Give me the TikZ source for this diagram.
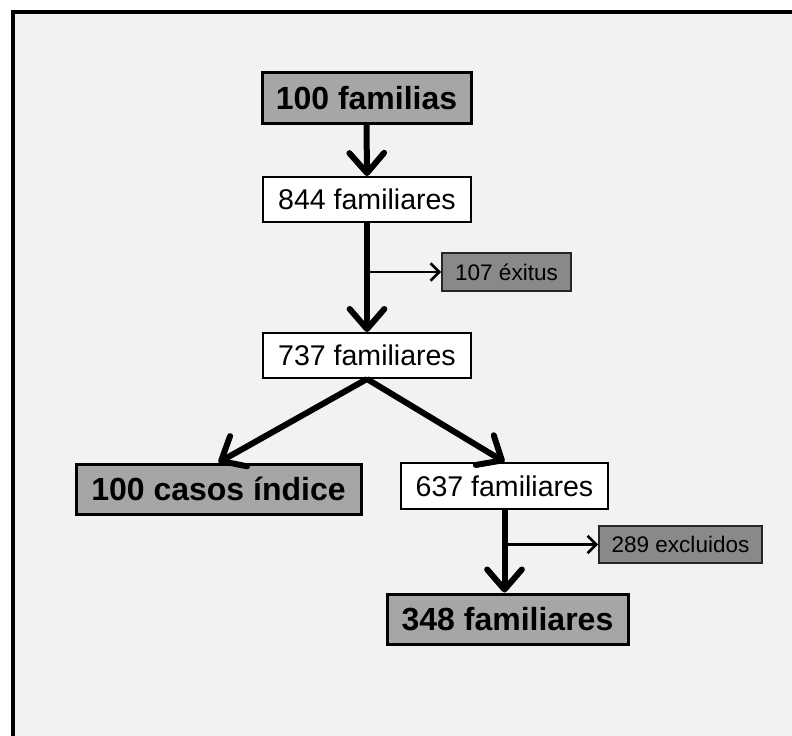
\documentclass[tikz,border=0pt]{standalone}
\usepackage{fontspec}
\setmainfont{Liberation Sans}
\usetikzlibrary{arrows.meta}
\definecolor{panel}{HTML}{F2F2F2}
\definecolor{keygray}{HTML}{A6A6A6}
\definecolor{lossgray}{HTML}{898989}
\begin{document}
\begin{tikzpicture}[x=0.75pt,y=-0.75pt,
  keybox/.style={draw=black, line width=2.25pt, fill=keygray, inner sep=0pt,
    font=\fontsize{24}{28}\selectfont\bfseries},
  countbox/.style={draw=black, line width=1.5pt, fill=white, inner sep=0pt,
    font=\fontsize{21.4}{25}\selectfont},
  lossbox/.style={draw=black!85, line width=1.2pt, fill=lossgray, inner sep=0pt,
    font=\fontsize{16.9}{20}\selectfont},
  flow/.style={line width=4.5pt, -{Straight Barb[length=15pt,width=26pt,line width=4.5pt,round]}},
  side/.style={line width=2pt, -{Straight Barb[length=6.5pt,width=13pt,line width=2pt]}}]

% page and framed panel
\fill[white] (0,0) rectangle (792,735);
\useasboundingbox (0,0) rectangle (792,735);
\clip (0,0) rectangle (792,735);
\draw[line width=3pt, fill=panel] (13,12.5) rectangle (830,760);

% boxes
\node[keybox, minimum width=156.75pt, minimum height=37.5pt] (f100) at (366.5,98) {100 familias};
\node[countbox, minimum width=156pt, minimum height=33.75pt] (f844) at (367,199.5) {844 familiares};
\node[lossbox, minimum width=96.75pt, minimum height=28.5pt] (ex107) at (506.5,272) {107 éxitus};
\node[countbox, minimum width=156pt, minimum height=33.75pt] (f737) at (367,355.5) {737 familiares};
\node[keybox, minimum width=213.75pt, minimum height=37.5pt] (c100) at (218.5,489) {100 casos índice};
\node[countbox, minimum width=155.25pt, minimum height=34.5pt] (f637) at (504.5,486) {637 familiares};
\node[lossbox, minimum width=122.25pt, minimum height=27.75pt] (ex289) at (680.5,544.5) {289 excluidos};
\node[keybox, minimum width=180.75pt, minimum height=37.5pt] (f348) at (507.5,619) {348 familiares};

% connectors
\draw[flow] (f100.south) -- (f844.north);
\draw[flow] (f844.south) -- (f737.north);
\draw[side] (f844.south |- ex107.west) -- (ex107.west);
\draw[flow] (f737.south) -- (c100.north);
\draw[flow] (f737.south) -- (f637.north);
\draw[flow] (f637.south) -- (f637.south |- f348.north);
\draw[side] (f637.south |- ex289.west) -- (ex289.west);
\end{tikzpicture}
\end{document}
